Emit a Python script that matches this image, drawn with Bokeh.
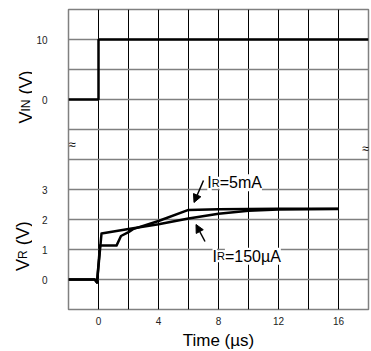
import math
from bokeh.plotting import figure
from bokeh.layouts import row
from bokeh.models import Range1d, FixedTicker, Label, Arrow, NormalHead
from bokeh.embed import file_html
from bokeh.resources import INLINE

# ---------------- data ----------------
time_vin = [-2, 0, 0, 18]
vin = [0, 0, 10, 10]

# IR = 150 uA
time_150ua = [-2, -0.25, -0.1, 0.2, 2, 4, 6, 8, 10, 12, 16]
vr_150ua = [0, 0, -0.1, 1.53, 1.68, 1.84, 2.03, 2.19, 2.29, 2.33, 2.35]

# IR = 5 mA
time_5ma = [-2, -0.25, -0.1, 0.1, 1.2, 1.5, 2.0, 2.3, 4, 6, 8, 12, 16]
vr_5ma = [0, 0, -0.1, 1.13, 1.13, 1.45, 1.58, 1.68, 1.95, 2.32, 2.34, 2.36, 2.36]

x_ticks = [0, 4, 8, 12, 16]
x_grid = [0, 2, 4, 6, 8, 10, 12, 14, 16]
vr_ticks = [0, 1, 2, 3]
vin_ticks = [0, 10]
y_grid = [0, 1, 2, 3, 4, 5, 6, 7, 8]

X_RANGE = (-2, 18)
VR_RANGE = (-1, 9)
VIN_RANGE = (-35, 15)

FONT = "Liberation Sans"
H = 351
LEFT_W = 32
AXIS_W = 36

# ---------------- title strip (left) ----------------
side = figure(frame_width=LEFT_W, frame_height=H, min_border=0,
              x_range=Range1d(0, LEFT_W), y_range=Range1d(H, 0),
              x_axis_location=None, y_axis_location=None,
              output_backend="svg", toolbar_location=None)
side.grid.visible = False
side.outline_line_color = None
side.background_fill_color = "white"
side.border_fill_color = "white"


def slab(text, px, py, size):
    side.add_layout(Label(x=px, y=py, text=text, text_font=FONT, text_font_size=f"{size}px",
                          text_color="black", text_align="left", text_baseline="alphabetic",
                          angle=math.pi / 2))


slab("V", 25, 114, 18)
slab("IN", 25, 102, 12)
slab("(V)", 25, 85, 18)

slab("V", 22, 261.5, 18)
slab("R", 22, 249.5, 12)
slab("(V)", 22, 235.8, 18)

# ---------------- main chart ----------------
p = figure(frame_width=300, frame_height=300,
           min_border_left=AXIS_W, min_border_right=3, min_border_top=9, min_border_bottom=42,
           x_range=Range1d(*X_RANGE), y_range=Range1d(*VR_RANGE),
           output_backend="svg", toolbar_location=None)
p.extra_y_ranges = {"vin": Range1d(*VIN_RANGE)}
p.background_fill_color = "white"
p.border_fill_color = "white"
p.outline_line_color = "#808080"
p.outline_line_width = 1.5

p.xgrid.ticker = FixedTicker(ticks=x_grid)
p.xgrid.grid_line_color = "black"
p.xgrid.grid_line_width = 1
p.ygrid.ticker = FixedTicker(ticks=y_grid)
p.ygrid.grid_line_color = "#808080"
p.ygrid.grid_line_width = 1.5


def vin_to_vr(u):
    return VR_RANGE[0] + (u - VIN_RANGE[0]) * (VR_RANGE[1] - VR_RANGE[0]) / (VIN_RANGE[1] - VIN_RANGE[0])


vin_pos = [float(vin_to_vr(u)) for u in vin_ticks]

for ax in (p.xaxis, p.yaxis):
    ax.axis_line_color = None
    ax.major_tick_line_color = None
    ax.minor_tick_line_color = None
    ax.major_tick_out = 0
    ax.major_tick_in = 0
    ax.major_label_text_font = FONT
    ax.major_label_text_font_size = "10px"
    ax.major_label_text_color = "#222222"

p.xaxis.ticker = FixedTicker(ticks=x_ticks)
p.xaxis.major_label_standoff = 7
p.xaxis.axis_label = "Time (µs)"
p.xaxis.axis_label_text_font = FONT
p.xaxis.axis_label_text_font_size = "17px"
p.xaxis.axis_label_text_font_style = "normal"
p.xaxis.axis_label_text_color = "black"
p.xaxis.axis_label_standoff = 3

p.yaxis.ticker = FixedTicker(ticks=[float(t) for t in vr_ticks] + vin_pos)
p.yaxis.major_label_overrides = {pos: str(u) for pos, u in zip(vin_pos, vin_ticks)}
p.yaxis.major_label_standoff = 21

p.line(time_vin, vin, y_range_name="vin", line_color="black", line_width=2.5)
p.line(time_150ua, vr_150ua, line_color="black", line_width=2.5, line_join="round")
p.line(time_5ma, vr_5ma, line_color="black", line_width=2.5, line_join="round")


# annotation placement helpers (page pixels -> data)
def dx(px):
    return X_RANGE[0] + (px - 68) / 15.0


def dy(py):
    return VR_RANGE[1] - (py - 9) / 30.0


def lab(text, x, y, size, bg=None, align="left", baseline="alphabetic"):
    l = Label(x=x, y=y, text=text, text_font=FONT, text_font_size=f"{size}px",
              text_color="black", text_align=align, text_baseline=baseline)
    if bg:
        l.background_fill_color = bg
    p.add_layout(l)


p.add_layout(Arrow(x_start=dx(203), y_start=dy(180), x_end=dx(193.5), y_end=dy(202),
                   line_width=1.5, line_color="black",
                   end=NormalHead(size=8, fill_color="black", line_color="black", line_width=1)))
p.add_layout(Arrow(x_start=dx(204.5), y_start=dy(241), x_end=dx(195.5), y_end=dy(224),
                   line_width=1.5, line_color="black",
                   end=NormalHead(size=8, fill_color="black", line_color="black", line_width=1)))

b1 = dy(182.3)
lab("=5mA", dx(219.2), b1, 16, bg="white")
lab("I", dx(206.8), b1, 16, bg="white")
lab("R", dx(211.3), b1, 11, bg="white")

b2 = dy(255.7)
lab("=150µA", dx(224.4), b2, 16, bg="white")
lab("I", dx(212.0), b2, 16, bg="white")
lab("R", dx(216.45), b2, 11, bg="white")

# axis break marks (at the frame edges)
lab("≈", dx(71.5), dy(144), 13, align="center", baseline="middle")
lab("≈", dx(365), dy(148), 13, align="center", baseline="middle")

layout = row(side, p, spacing=0)
open("out.html", "w").write(file_html(layout, INLINE))
